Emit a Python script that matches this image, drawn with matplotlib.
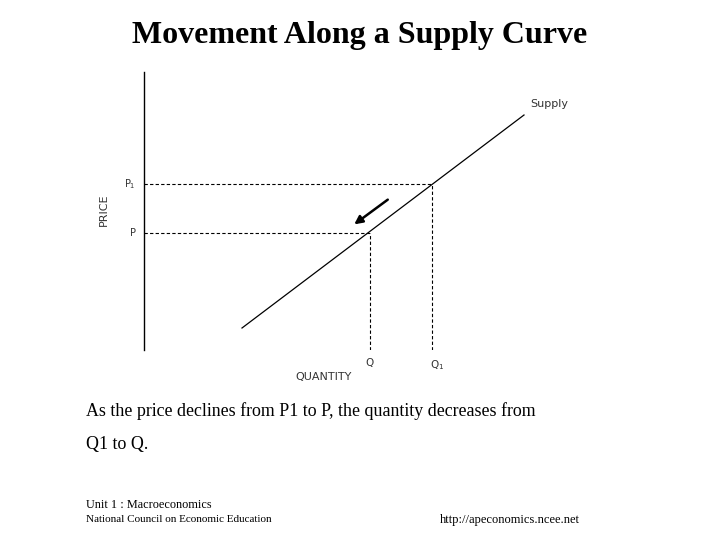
import matplotlib
matplotlib.use("Agg")
import matplotlib.pyplot as plt

supply_q = [98, 380]
supply_p = [22, 235]
Q, P = 226, 117
Q1, P1 = 288, 166
arrow_start = (246, 152)
arrow_end = (208, 124)

W, H = 720, 540
fig = plt.figure(figsize=(7.2, 5.4), dpi=100)
fig.patch.set_facecolor("white")
ax = fig.add_axes([144/W, (540-350)/H, 570/W, 278/H])
ax.set_xlim(0, 570)
ax.set_ylim(0, 278)
for s in ["top", "right", "bottom"]:
    ax.spines[s].set_visible(False)
ax.spines["left"].set_linewidth(1)
ax.set_xticks([]); ax.set_yticks([])
ax.patch.set_alpha(0)

ax.plot(supply_q, supply_p, color="black", lw=0.9)
dash = dict(color="black", lw=0.8, ls=(0, (3, 2)))
ax.plot([0, Q], [P, P], **dash)
ax.plot([Q, Q], [0, P], **dash)
ax.plot([0, Q1], [P1, P1], **dash)
ax.plot([Q1, Q1], [0, P1], **dash)
ax.annotate("", xy=arrow_end, xytext=arrow_start,
            arrowprops=dict(arrowstyle="-|>", color="black", lw=1.8, mutation_scale=12))

sf = dict(family="DejaVu Sans", color="#333333")
ax.text(supply_q[1]+6, supply_p[1]+6, "Supply", fontsize=8, ha="left", va="bottom", **sf)
ax.text(-8, P1, "P$_1$", fontsize=7, ha="right", va="center", **sf)
ax.text(-8, P, "P", fontsize=7, ha="right", va="center", **sf)
ax.text(Q, -8, "Q", fontsize=7.5, ha="center", va="top", **sf)
ax.text(Q1+5, -8, "Q$_1$", fontsize=7.5, ha="center", va="top", **sf)
ax.text(180, -22, "QUANTITY", fontsize=8, ha="center", va="top", **sf)
ax.text(-40, 140, "PRICE", fontsize=8, ha="center", va="center", rotation=90, **sf)

serif = "Liberation Serif"
fig.text(360/W, 1-35/H, "Movement Along a Supply Curve", fontsize=23, fontweight="bold",
         family=serif, ha="center", va="center")
fig.text(86/W, 1-411/H, "As the price declines from P1 to P, the quantity decreases from",
         fontsize=12.9, family=serif, ha="left", va="center")
fig.text(86/W, 1-444/H, "Q1 to Q.", fontsize=12.9, family=serif, ha="left", va="center")
fig.text(86/W, 1-505/H, "Unit 1 : Macroeconomics", fontsize=8.8, family=serif, ha="left", va="center")
fig.text(86/W, 1-520/H, "National Council on Economic Education", fontsize=8, family=serif,
         ha="left", va="center")
fig.text(440/W, 1-520/H, "http://apeconomics.ncee.net", fontsize=9, family=serif,
         ha="left", va="center")

fig.savefig("out.png", dpi=100)
